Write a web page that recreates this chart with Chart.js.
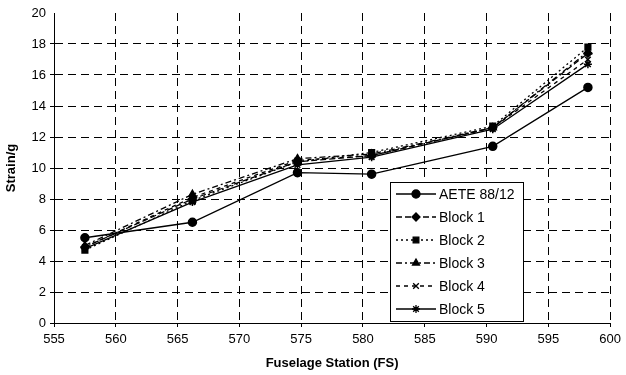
<!DOCTYPE html>
<html>
<head>
<meta charset="utf-8">
<script src="https://cdn.jsdelivr.net/npm/chart.js@4.4.0/dist/chart.umd.min.js"></script>
<style>
    html, body { margin: 0; padding: 0; background: #fff; }
    #wrap { width: 626px; height: 375px; position: relative; }
</style>
</head>
<body>
<div id="wrap"><canvas id="strainChart"></canvas></div>
<script>
// Data
const stations = [557.5, 566.2, 574.7, 580.7, 590.5, 598.2];
const aete = [5.5, 6.5, 9.7, 9.6, 11.4, 15.2];
const block1 = [4.9, 8.0, 10.4, 10.8, 12.6, 17.4];
const block2 = [4.7, 7.9, 10.4, 11.0, 12.7, 17.8];
const block3 = [5.0, 8.3, 10.6, 10.9, 12.6, 17.5];
const block4 = [4.9, 8.1, 10.5, 10.8, 12.6, 17.0];
const block5 = [4.8, 7.8, 10.2, 10.7, 12.5, 16.7];
const seriesLabels = ['AETE 88/12', 'Block 1', 'Block 2', 'Block 3', 'Block 4', 'Block 5'];
const xTicks = [555, 560, 565, 570, 575, 580, 585, 590, 595, 600];
const yTicks = [0, 2, 4, 6, 8, 10, 12, 14, 16, 18, 20];

const seriesValues = [aete, block1, block2, block3, block4, block5];
const styles = [
    { pointStyle: 'circle', dash: [], radius: 4 },
    { pointStyle: 'rectRot', dash: [6, 3], radius: 4 },
    { pointStyle: 'rect', dash: [2, 3], radius: 4 },
    { pointStyle: 'triangle', dash: [6, 3, 2, 3], radius: 4 },
    { pointStyle: 'crossRot', dash: [4, 4], radius: 4 },
    { pointStyle: 'star', dash: [], radius: 4 }
];

const datasets = seriesValues.map((vals, i) => ({
    label: seriesLabels[i],
    data: stations.map((x, j) => ({ x: x, y: vals[j] })),
    showLine: true,
    borderColor: '#000',
    backgroundColor: '#000',
    borderWidth: 1.3,
    borderDash: styles[i].dash,
    pointStyle: styles[i].pointStyle,
    pointRadius: styles[i].radius,
    pointBorderWidth: 1.5,
    pointBorderColor: '#000',
    pointBackgroundColor: '#000'
}));

// Boxed legend drawn inside the plot area
const boxLegend = {
    id: 'boxLegend',
    afterDraw(chart) {
        const ctx = chart.ctx;
        const left = 390, top = 182, w = 133, h = 139, rowH = 23;
        ctx.save();
        ctx.fillStyle = '#fff';
        ctx.fillRect(left, top, w, h);
        ctx.strokeStyle = '#000';
        ctx.lineWidth = 1;
        ctx.strokeRect(left + 0.5, top + 0.5, w, h);
        ctx.font = '14px "Liberation Sans", Arial, sans-serif';
        ctx.textBaseline = 'middle';
        chart.data.datasets.forEach((ds, i) => {
            const y = top + 12 + i * rowH;
            ctx.strokeStyle = '#000';
            ctx.lineWidth = 1.3;
            ctx.setLineDash(ds.borderDash);
            ctx.beginPath();
            ctx.moveTo(left + 6, y);
            ctx.lineTo(left + 46, y);
            ctx.stroke();
            ctx.setLineDash([]);
            ctx.fillStyle = '#000';
            Chart.helpers.drawPoint(ctx, {
                pointStyle: ds.pointStyle, radius: ds.pointRadius, rotation: 0, borderWidth: 1.5
            }, left + 26, y);
            ctx.fillStyle = '#000';
            ctx.fillText(ds.label, left + 49, y + 1);
        });
        ctx.restore();
    }
};

const gridDash = [8, 5];
const tickFont = { family: '"Liberation Sans", Arial, sans-serif', size: 13 };
const titleFont = { family: '"Liberation Sans", Arial, sans-serif', size: 13, weight: 'bold' };

new Chart(document.getElementById('strainChart'), {
    type: 'scatter',
    data: { datasets: datasets },
    plugins: [boxLegend],
    options: {
        responsive: true,
        maintainAspectRatio: false,
        animation: false,
        layout: { padding: { top: 13, right: 10, left: 0, bottom: 0 } },
        plugins: {
            legend: { display: false },
            tooltip: { enabled: false }
        },
        scales: {
            x: {
                type: 'linear',
                min: 555,
                max: 600,
                afterBuildTicks: (axis) => { axis.ticks = xTicks.map(v => ({ value: v })); },
                afterFit: (axis) => { axis.height = 52; },
                ticks: { color: '#000', font: tickFont, padding: 5 },
                grid: { color: '#000', lineWidth: 1, tickLength: 4, borderDash: gridDash, tickBorderDash: [] },
                border: { display: true, color: '#000', width: 1, dash: gridDash },
                title: {
                    display: true,
                    text: 'Fuselage Station (FS)',
                    color: '#000',
                    font: titleFont,
                    padding: { top: 0, bottom: 4 }
                }
            },
            y: {
                min: 0,
                max: 20,
                afterBuildTicks: (axis) => { axis.ticks = yTicks.map(v => ({ value: v })); },
                afterFit: (axis) => { axis.width = 54; },
                ticks: { color: '#000', font: tickFont, padding: 4 },
                grid: {
                    color: (c) => (c.tick && c.tick.value === 20 ? 'rgba(0,0,0,0)' : '#000'),
                    lineWidth: 1,
                    tickLength: 4,
                    borderDash: gridDash,
                    tickBorderDash: []
                },
                border: { display: true, color: '#000', width: 1, dash: gridDash },
                title: {
                    display: true,
                    text: 'Strain/g',
                    color: '#000',
                    font: titleFont,
                    padding: { bottom: 0 }
                }
            }
        }
    }
});
</script>
</body>
</html>
